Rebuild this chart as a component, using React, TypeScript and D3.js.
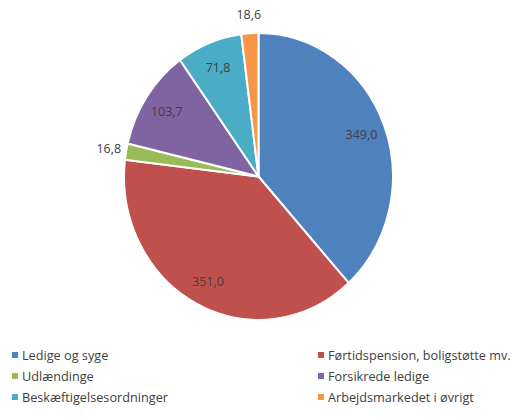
import React from "react";
import * as d3 from "d3";

const categories = [
  "Ledige og syge",
  "Førtidspension, boligstøtte mv.",
  "Udlændinge",
  "Forsikrede ledige",
  "Beskæftigelsesordninger",
  "Arbejdsmarkedet i øvrigt",
];
const values = [349.0, 351.0, 16.8, 103.7, 71.8, 18.6];
const labels = ["349,0", "351,0", "16,8", "103,7", "71,8", "18,6"];
const colors = ["#4F81BD", "#C0504D", "#9BBB59", "#8064A2", "#4BACC6", "#F79646"];

const W = 517;
const H = 420;
const cx = 258.5;
const cy = 176.5;
const rx = 134.5;
const ry = 143.5;

export default function App() {
  const pie = d3.pie<number>().sort(null).value((d) => d);
  const arcs = pie(values);
  const arc = d3.arc<d3.PieArcDatum<number>>().innerRadius(0).outerRadius(1);

  const legendRows = [355, 376, 397];
  const legendCols = [12, 318];

  return (
    <svg
      width={W}
      height={H}
      style={{ position: "absolute", left: 0, top: 0, background: "#fff" }}
      fontFamily="'Open Sans', sans-serif"
    >
      <g transform={`translate(${cx},${cy}) scale(${rx},${ry})`}>
        {arcs.map((a, i) => (
          <path
            key={i}
            d={arc(a) || ""}
            fill={colors[i]}
            stroke="#fff"
            strokeWidth={2}
            vectorEffect="non-scaling-stroke"
            strokeLinejoin="round"
          />
        ))}
      </g>
      {arcs.map((a, i) => {
        const mid = (a.startAngle + a.endAngle) / 2;
        const frac = (a.endAngle - a.startAngle) / (2 * Math.PI);
        const r = frac < 0.03 ? 1.13 : 0.82;
        const x = cx + Math.sin(mid) * rx * r;
        const y = cy - Math.cos(mid) * ry * r;
        return (
          <text
            key={i}
            x={x}
            y={y}
            textAnchor="middle"
            dominantBaseline="central"
            fontSize={12.5}
            fill="#404040"
          >
            {labels[i]}
          </text>
        );
      })}
      {categories.map((c, i) => {
        const col = i % 2;
        const row = Math.floor(i / 2);
        const x = legendCols[col];
        const y = legendRows[row];
        return (
          <g key={c}>
            <rect x={x} y={y - 3} width={6} height={6} fill={colors[i]} />
            <text
              x={x + 10}
              y={y}
              dominantBaseline="central"
              fontSize={12.7}
              fill="#404040"
            >
              {c}
            </text>
          </g>
        );
      })}
    </svg>
  );
}
